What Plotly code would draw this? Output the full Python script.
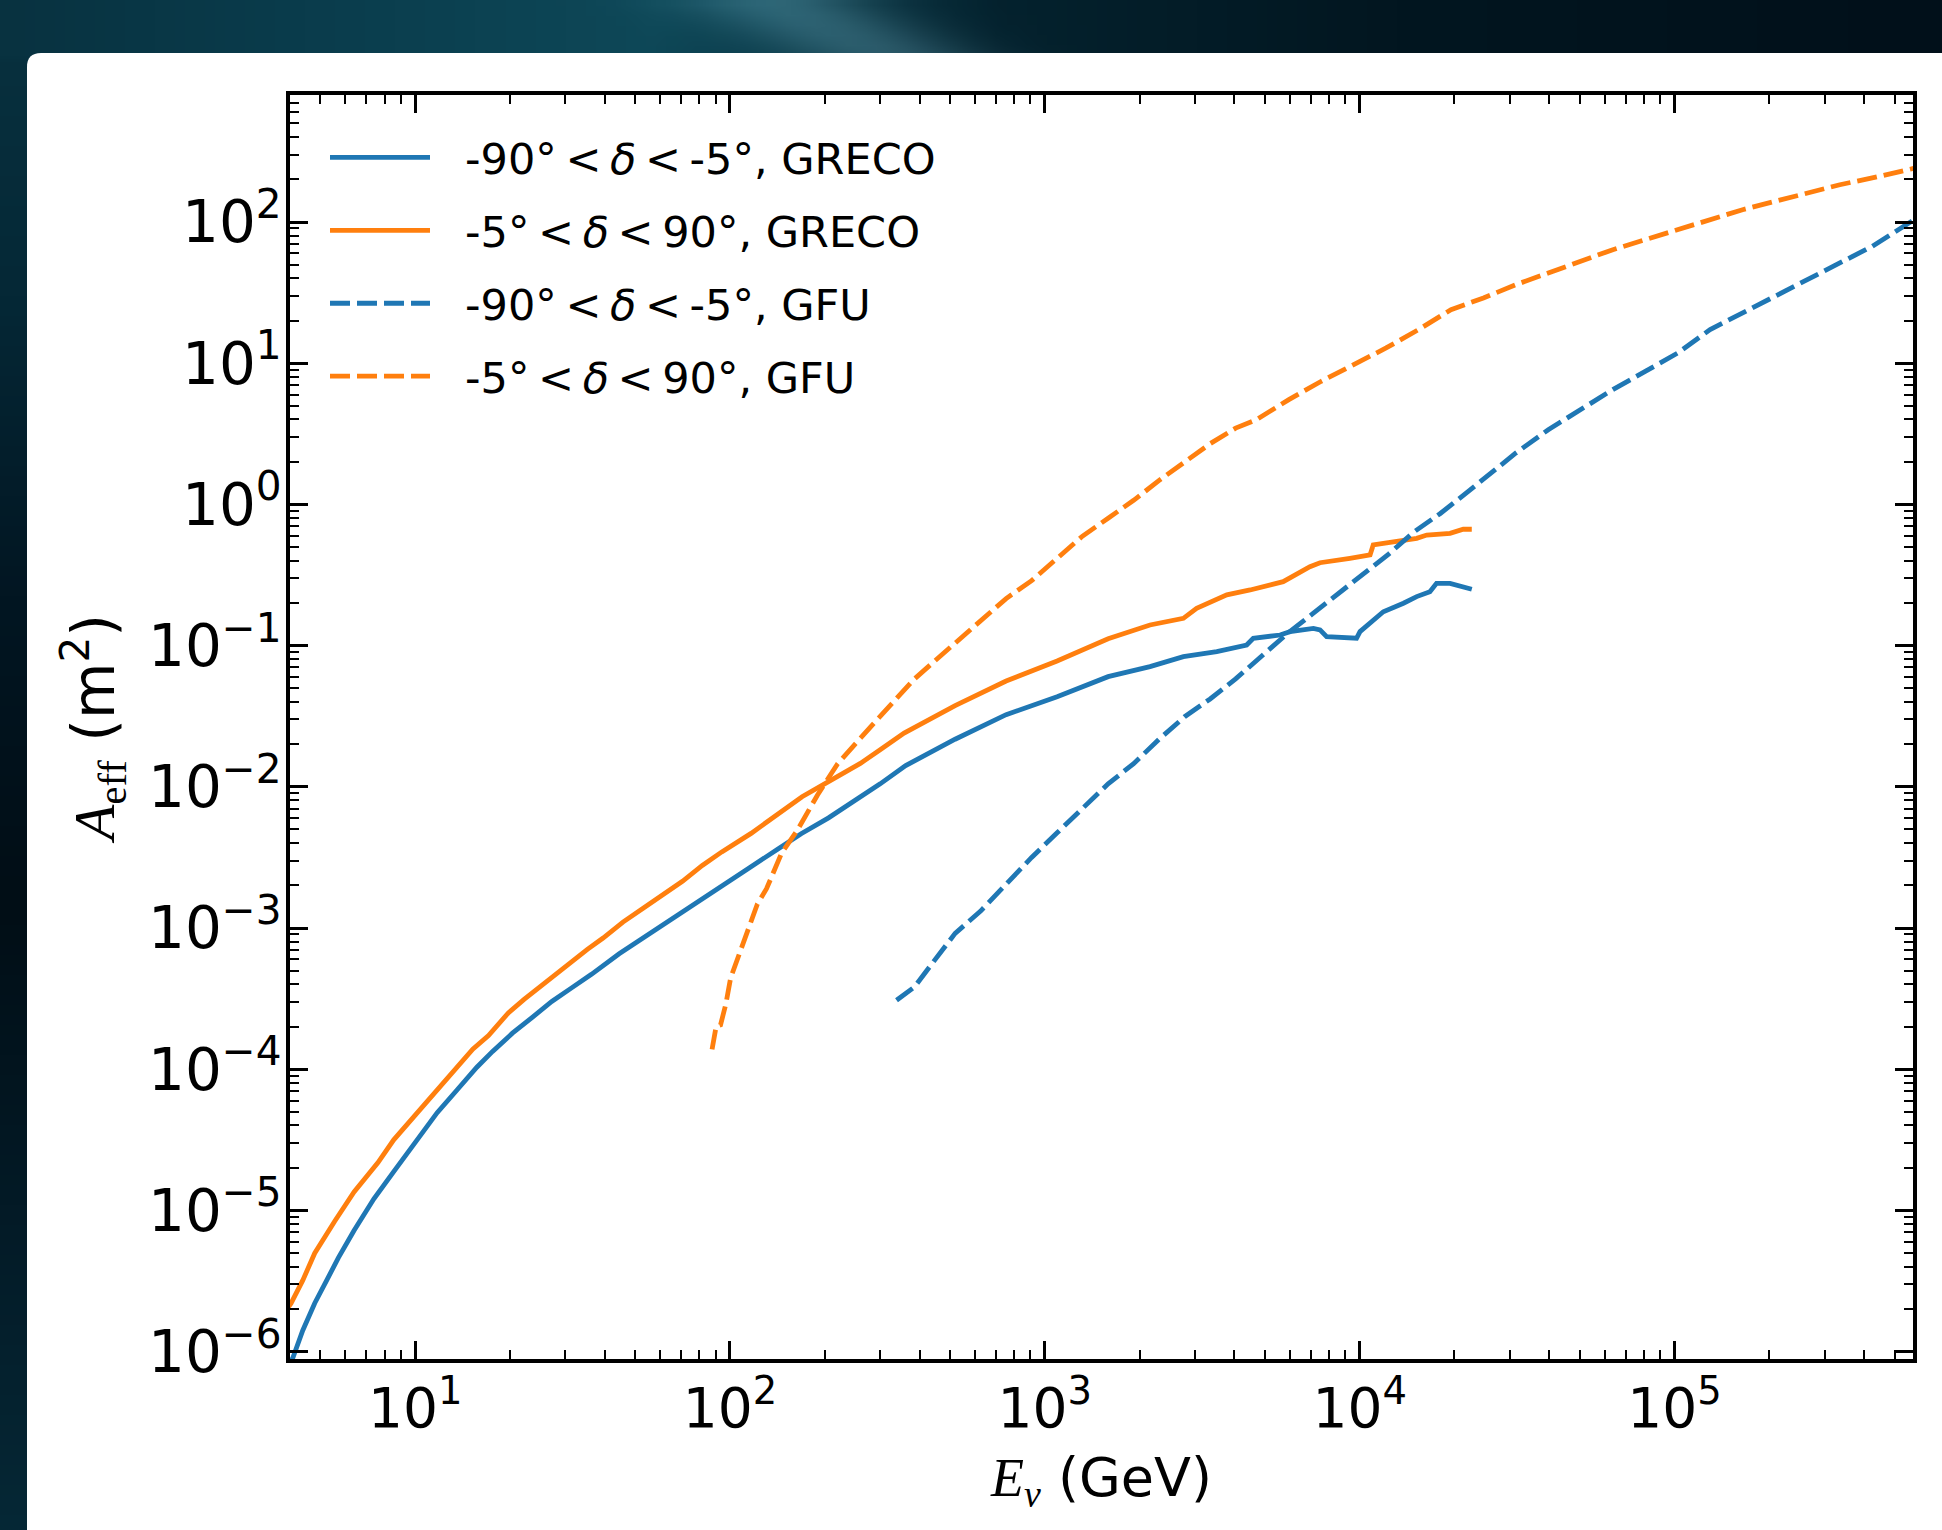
import base64, struct, zlib, math
import numpy as np
import plotly.graph_objects as go

# ---------------- data (log10 E [GeV], log10 A_eff [m^2]) ----------------
greco_south_logE = [0.597, 0.612, 0.643, 0.681, 0.719, 0.756, 0.806, 0.869, 0.932, 1.007, 1.070, 1.133,
                    1.196, 1.246, 1.309, 1.372, 1.434, 1.497, 1.560, 1.648, 1.723, 1.798, 1.886, 1.974,
                    2.062, 2.150, 2.226, 2.313, 2.401, 2.477, 2.558, 2.715, 2.877, 3.039, 3.201, 3.334,
                    3.440, 3.546, 3.641, 3.662, 3.747, 3.779, 3.853, 3.874, 3.895, 3.990, 4.001, 4.033,
                    4.075, 4.139, 4.181, 4.223, 4.244, 4.287, 4.319, 4.356]
greco_south_logA = [-6.10, -6.042, -5.850, -5.657, -5.496, -5.336, -5.143, -4.918, -4.725, -4.500, -4.308, -4.147,
                    -3.986, -3.874, -3.745, -3.633, -3.520, -3.424, -3.328, -3.183, -3.071, -2.958, -2.830, -2.701,
                    -2.573, -2.444, -2.332, -2.220, -2.091, -1.979, -1.850, -1.663, -1.489, -1.362, -1.220, -1.149,
                    -1.078, -1.043, -0.996, -0.948, -0.925, -0.901, -0.878, -0.889, -0.937, -0.948, -0.901, -0.842,
                    -0.760, -0.700, -0.653, -0.618, -0.559, -0.559, -0.582, -0.601]

greco_north_logE = [0.593, 0.606, 0.643, 0.681, 0.744, 0.806, 0.882, 0.932, 1.001, 1.070, 1.120, 1.183,
                    1.233, 1.296, 1.346, 1.409, 1.472, 1.547, 1.597, 1.660, 1.723, 1.786, 1.849, 1.912,
                    1.974, 2.067, 2.150, 2.229, 2.288, 2.351, 2.414, 2.477, 2.553, 2.715, 2.877, 3.039,
                    3.201, 3.334, 3.440, 3.482, 3.578, 3.652, 3.757, 3.842, 3.874, 3.969, 4.033, 4.043,
                    4.117, 4.181, 4.213, 4.287, 4.329, 4.356]
greco_north_logA = [-5.70, -5.657, -5.496, -5.303, -5.079, -4.870, -4.661, -4.500, -4.324, -4.147, -4.018, -3.858,
                    -3.762, -3.601, -3.505, -3.392, -3.280, -3.151, -3.071, -2.958, -2.862, -2.766, -2.669, -2.557,
                    -2.461, -2.330, -2.200, -2.070, -1.995, -1.914, -1.834, -1.738, -1.620, -1.425, -1.251, -1.109,
                    -0.951, -0.854, -0.807, -0.736, -0.641, -0.606, -0.547, -0.441, -0.413, -0.382, -0.358, -0.287,
                    -0.264, -0.240, -0.217, -0.205, -0.176, -0.176]

gfu_south_logE = [2.529, 2.586, 2.634, 2.715, 2.796, 2.877, 2.958, 3.039, 3.120, 3.201, 3.282, 3.363,
                  3.444, 3.525, 3.606, 3.687, 3.768, 3.849, 3.931, 4.012, 4.093, 4.174, 4.255, 4.336,
                  4.417, 4.496, 4.599, 4.701, 4.804, 4.907, 5.010, 5.113, 5.216, 5.319, 5.422, 5.525,
                  5.628, 5.770]
gfu_south_logA = [-3.512, -3.417, -3.275, -3.038, -2.880, -2.690, -2.500, -2.326, -2.153, -1.979, -1.836, -1.663,
                  -1.504, -1.378, -1.236, -1.078, -0.919, -0.777, -0.635, -0.493, -0.350, -0.192, -0.066, 0.076,
                  0.219, 0.364, 0.529, 0.671, 0.813, 0.942, 1.072, 1.238, 1.356, 1.474, 1.592, 1.710,
                  1.828, 2.030]

gfu_north_logE = [1.943, 1.956, 1.970, 1.987, 2.002, 2.025, 2.044, 2.067, 2.087, 2.116, 2.144, 2.164,
                  2.213, 2.278, 2.342, 2.391, 2.456, 2.521, 2.586, 2.650, 2.715, 2.812, 2.877, 2.958,
                  3.039, 3.120, 3.201, 3.282, 3.363, 3.444, 3.525, 3.606, 3.672, 3.775, 3.878, 3.981,
                  4.084, 4.187, 4.290, 4.393, 4.496, 4.599, 4.701, 4.804, 4.907, 5.010, 5.113, 5.216,
                  5.319, 5.422, 5.525, 5.628, 5.770]
gfu_north_logA = [-3.860, -3.697, -3.686, -3.537, -3.354, -3.215, -3.087, -2.943, -2.830, -2.722, -2.573, -2.469,
                  -2.311, -2.058, -1.836, -1.710, -1.552, -1.394, -1.236, -1.109, -0.983, -0.793, -0.667, -0.540,
                  -0.382, -0.224, -0.098, 0.029, 0.170, 0.305, 0.430, 0.540, 0.600, 0.742, 0.872, 0.990,
                  1.108, 1.238, 1.379, 1.462, 1.556, 1.639, 1.721, 1.804, 1.875, 1.946, 2.016, 2.087,
                  2.146, 2.205, 2.264, 2.312, 2.385]

TS = "\u2009"  # thin space, as in the math-mode legend labels
series_names = [f"\u2002{TS}-90°{TS}<{TS}<i>δ</i>{TS}<{TS}-5°, GRECO",
                f"\u2002{TS}-5°{TS}<{TS}<i>δ</i>{TS}<{TS}90°, GRECO",
                f"\u2002{TS}-90°{TS}<{TS}<i>δ</i>{TS}<{TS}-5°, GFU",
                f"\u2002{TS}-5°{TS}<{TS}<i>δ</i>{TS}<{TS}90°, GFU"]

x_tick_exp = [1, 2, 3, 4, 5]
y_tick_exp = [-6, -5, -4, -3, -2, -1, 0, 1, 2]

BLUE = "#1f77b4"
ORANGE = "#ff7f0e"

# ---------------- figure geometry ----------------
W, H = 1942, 1530
L, R, T, B = 290, 1913, 95, 1359   # plot area in px


def px_to_logE(px):
    return 0.593 + (px - 287) / 314.85


def py_to_logA(py):
    return 2 - (py - 222) / 141.2


pw, ph = R - L, B - T


def px2paper(x, y):
    return (x - L) / pw, (B - y) / ph


# ---------------- background image (slide backdrop) ----------------
def lerp_stops(stops, v):
    if v <= stops[0][0]:
        return stops[0][1]
    for (a, ca), (b, cb) in zip(stops[:-1], stops[1:]):
        if v <= b:
            t = (v - a) / (b - a)
            return tuple(ca[i] + (cb[i] - ca[i]) * t for i in range(3))
    return stops[-1][1]


top_stops = [(0, (8, 50, 64)), (300, (10, 60, 76)), (650, (14, 72, 88)), (1000, (4, 34, 46)),
             (1400, (2, 22, 32)), (1942, (1, 16, 26))]
left_stops = [(0, (8, 50, 64)), (300, (5, 40, 54)), (600, (2, 22, 34)), (900, (1, 14, 22)),
              (1200, (3, 26, 38)), (1530, (6, 40, 54))]

GW, GH = 194, 153
rows = []
for j in range(GH):
    Y = (j + 0.5) * H / GH
    row = bytearray()
    for i in range(GW):
        X = (i + 0.5) * W / GW
        if Y < 62:
            c = list(lerp_stops(top_stops, X))
            d = X - (770 + 2.1 * Y)
            k = math.exp(-(d / 95.0) ** 2)
            c = [c[0] + 36 * k, c[1] + 44 * k, c[2] + 46 * k]
        else:
            c = list(lerp_stops(left_stops, Y))
        row.extend(int(max(0, min(255, v))) for v in c)
    rows.append(bytes(row))


def png_bytes(w, h, rws):
    raw = b"".join(b"\x00" + r for r in rws)

    def chunk(t, d):
        return struct.pack(">I", len(d)) + t + d + struct.pack(">I", zlib.crc32(t + d) & 0xffffffff)

    return (b"\x89PNG\r\n\x1a\n" + chunk(b"IHDR", struct.pack(">IIBBBBB", w, h, 8, 2, 0, 0, 0))
            + chunk(b"IDAT", zlib.compress(raw, 9)) + chunk(b"IEND", b""))


bg_uri = "data:image/png;base64," + base64.b64encode(png_bytes(GW, GH, rows)).decode()

# ---------------- traces ----------------
fig = go.Figure()
specs = [
    (greco_south_logE, greco_south_logA, BLUE, "solid"),
    (greco_north_logE, greco_north_logA, ORANGE, "solid"),
    (gfu_south_logE, gfu_south_logA, BLUE, "20px,7px"),
    (gfu_north_logE, gfu_north_logA, ORANGE, "20px,7px"),
]
for k, (lx, ly, col, dash) in enumerate(specs):
    fig.add_trace(go.Scatter(
        x=np.power(10.0, lx), y=np.power(10.0, ly), mode="lines",
        line=dict(color=col, width=4.8, dash=dash),
        name=series_names[k], legendgroup=f"g{k}",
    ))

# ---------------- layout ----------------
x0p, y0p = px2paper(0, 0)
card_pts = [px2paper(27, 1545), px2paper(27, 53 + 14), px2paper(27, 53), px2paper(27 + 14, 53),
            px2paper(1960, 53), px2paper(1960, 1545)]
card_path = ("M{:.5f},{:.5f} L{:.5f},{:.5f} Q{:.5f},{:.5f} {:.5f},{:.5f} L{:.5f},{:.5f} L{:.5f},{:.5f} Z"
             .format(*[v for p in card_pts for v in p]))

minor_vals = [m * 10.0 ** e for e in range(0, 7) for m in range(2, 10)]
minor_vals_y = [m * 10.0 ** e for e in range(-7, 4) for m in range(2, 10)]

axis_common = dict(
    type="log", showline=True, linewidth=3.5, linecolor="black", mirror="allticks",
    ticks="inside", ticklen=18, tickwidth=2.5, tickcolor="black",
    showgrid=False, zeroline=False,
)

legend_top_px = 123

fig.update_layout(
    width=W, height=H, autosize=False,
    margin=dict(l=L, r=W - R, t=T, b=H - B, pad=0),
    paper_bgcolor="#03202b", plot_bgcolor="white",
    font=dict(family="DejaVu Sans", color="black"),
    xaxis=dict(
        **axis_common,
        range=[px_to_logE(L), px_to_logE(R)],
        tickmode="array", tickvals=[10.0 ** e for e in x_tick_exp],
        ticktext=[f"10<sup>{e}</sup>" for e in x_tick_exp],
        tickfont=dict(family="DejaVu Sans", size=55, color="black"),
        ticklabelstandoff=-2,
        minor=dict(ticks="inside", ticklen=9, tickwidth=2, tickcolor="black",
                   tickmode="array", tickvals=minor_vals, showgrid=False),
        title=dict(text='<span style="font-family:Liberation Serif"><i>E</i><sub><i>ν</i></sub></span> (GeV)',
                   font=dict(size=54), standoff=20),
    ),
    yaxis=dict(
        **axis_common,
        range=[py_to_logA(B), py_to_logA(T)],
        tickmode="array", tickvals=[10.0 ** e for e in y_tick_exp],
        ticktext=[f"10<sup>{e}</sup>".replace("-", "\u2212") for e in y_tick_exp],
        tickfont=dict(family="DejaVu Sans", size=58, color="black"),
        ticklabelstandoff=-7,
        minor=dict(ticks="inside", ticklen=9, tickwidth=2, tickcolor="black",
                   tickmode="array", tickvals=minor_vals_y, showgrid=False),
        title=dict(text='<span style="font-family:Liberation Serif"><i>A</i><sub>eff</sub></span> (m<sup>2</sup>)',
                   font=dict(size=58), standoff=16),
    ),
    legend=dict(
        x=(325 - L) / pw, y=(B - legend_top_px) / ph, xanchor="left", yanchor="top",
        bgcolor="rgba(0,0,0,0)", borderwidth=0,
        font=dict(family="DejaVu Sans", size=43, color="black"),
        traceorder="grouped", tracegroupgap=14, itemwidth=100,
    ),
    images=[dict(source=bg_uri, xref="paper", yref="paper", x=x0p, y=y0p,
                 sizex=W / pw, sizey=H / ph, xanchor="left", yanchor="top",
                 sizing="stretch", layer="below")],
    shapes=[dict(type="path", path=card_path, xref="paper", yref="paper",
                 fillcolor="white", line=dict(width=0), layer="below")],
)

fig.write_html("out.html", config={"displayModeBar": False},
               post_script="document.body.style.margin='0';")
